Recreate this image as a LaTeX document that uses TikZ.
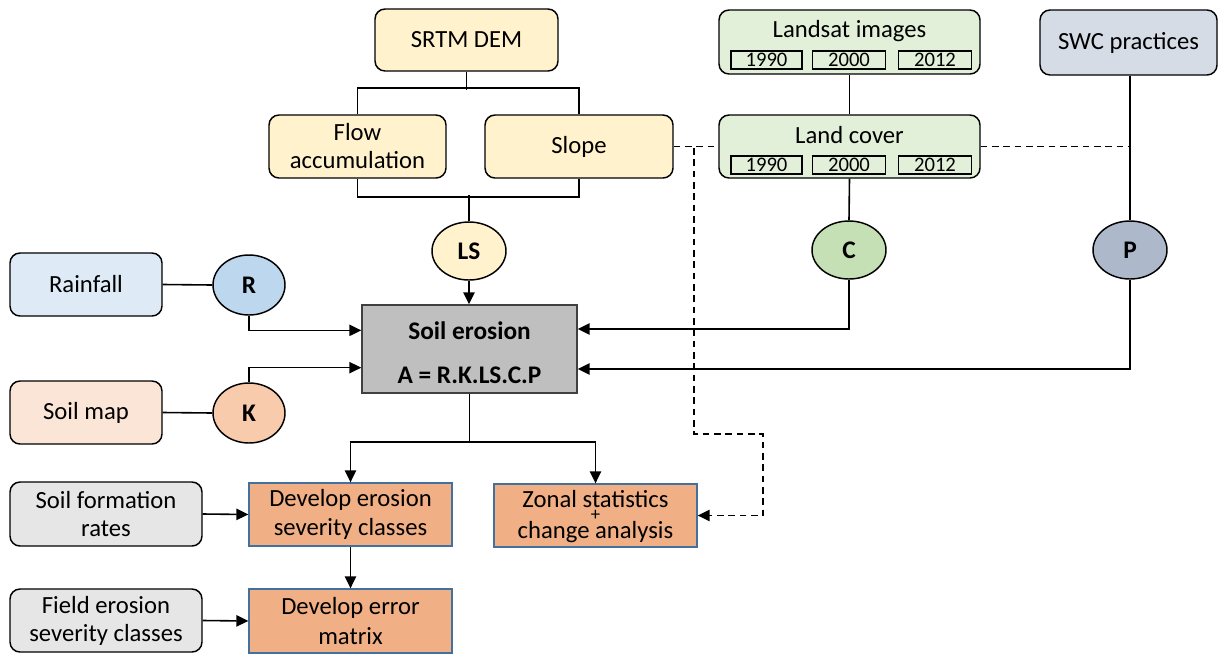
\documentclass[tikz,border=0pt]{standalone}
\usepackage{fontspec}
\setmainfont{Carlito}
\usetikzlibrary{arrows.meta,shapes.geometric}
\definecolor{ylw}{HTML}{FFF2CC}
\definecolor{grn}{HTML}{E2F0D9}
\definecolor{grnd}{HTML}{C5E0B4}
\definecolor{swc}{HTML}{D6DCE5}
\definecolor{swcd}{HTML}{ADB9CA}
\definecolor{blu}{HTML}{DEEBF7}
\definecolor{blud}{HTML}{BDD7EE}
\definecolor{pch}{HTML}{FBE5D6}
\definecolor{pchd}{HTML}{F8CBAD}
\definecolor{gry}{HTML}{E7E6E6}
\definecolor{org}{HTML}{F0AF84}
\definecolor{orgb}{HTML}{41719C}
\definecolor{segray}{HTML}{BFBFBF}
\tikzset{
  rbox/.style={draw=black, line width=1.1pt, rounded corners=7.5pt, align=center, inner sep=2pt, font=\fontsize{18.5}{21}\selectfont},
  obox/.style={draw=orgb, fill=org, line width=1pt, align=center, inner sep=2pt, minimum width=152.25pt, minimum height=47.25pt, font=\fontsize{18.5}{22}\selectfont},
  fac/.style={draw=black, ellipse, line width=1.1pt, minimum width=55.5pt, minimum height=43.5pt, inner sep=0pt, font=\bfseries\fontsize{19}{22}\selectfont},
  yr/.style={draw=black, line width=1pt, minimum height=13.5pt, minimum width=54.5pt, inner sep=0pt, font=\fontsize{15.5}{16}\selectfont},
  lbl/.style={inner sep=0pt, font=\fontsize{18.5}{21}\selectfont},
  conn/.style={line width=1.2pt},
  dsh/.style={dash pattern=on 5pt off 3.5pt},
  arr/.style={line width=1.2pt, -{Triangle[length=9pt,width=8.5pt]}},
}
\begin{document}
\begin{tikzpicture}[x=0.75pt,y=-0.75pt]
\useasboundingbox (0,0) rectangle (1218,654);

% top-left group
\node[rbox, fill=ylw, minimum width=137.25pt, minimum height=46.5pt] (srtm) at (466.5,40) {SRTM DEM};
\node[rbox, fill=ylw, minimum width=132.75pt, minimum height=47.25pt] (flow) at (357.5,146.5) {Flow\\accumulation};
\node[rbox, fill=ylw, minimum width=141pt, minimum height=47.25pt] (slope) at (579,146.5) {Slope};
\node[fac, fill=ylw] (ls) at (469,251) {LS};

% landsat group
\node[rbox, fill=grn, minimum width=195.75pt, minimum height=48pt] (landsat) at (849.5,42) {};
\node[lbl] (landsatt) at (849.5,31) {Landsat images};
\node[yr, minimum width=53.25pt] (ly1) at (766.5,60) {1990};
\node[yr] (ly2) at (849,60) {2000};
\node[yr] (ly3) at (935,60) {2012};
\node[rbox, fill=grn, minimum width=195.75pt, minimum height=47.25pt] (lc) at (849.5,146.5) {};
\node[lbl] (lct) at (849.5,135) {Land cover};
\node[yr, minimum width=53.25pt] (cy1) at (766.5,165) {1990};
\node[yr] (cy2) at (849,165) {2000};
\node[yr] (cy3) at (935,165) {2012};
\node[fac, fill=grnd] (c) at (849,250) {C};

\node[rbox, fill=swc, minimum width=132.75pt, minimum height=48.75pt] (swcp) at (1128.5,42.5) {SWC practices};
\node[fac, fill=swcd] (p) at (1130,250) {P};

% left inputs
\node[rbox, fill=blu, minimum width=114pt, minimum height=47.25pt] (rain) at (86,284.5) {Rainfall};
\node[fac, fill=blud, minimum width=54pt, minimum height=45pt] (r) at (249,285) {R};
\node[rbox, fill=pch, minimum width=114pt, minimum height=47.25pt] (soil) at (86,412.5) {Soil map};
\node[fac, fill=pchd, minimum width=54pt, minimum height=45pt] (k) at (249,413) {K};

% soil erosion
\node[draw=black!75, fill=segray, line width=1.1pt, minimum width=161.25pt, minimum height=66pt] (se) at (469.5,349) {};
\node[lbl, font=\bfseries\fontsize{19}{22}\selectfont] (se1) at (469.5,331) {Soil erosion};
\node[lbl, font=\bfseries\fontsize{19}{22}\selectfont] (se2) at (469.5,375) {A = R.K.LS.C.P};

% bottom
\node[rbox, fill=gry, minimum width=144pt, minimum height=48pt] (sfr) at (106,514) {Soil formation\\rates};
\node[rbox, fill=gry, minimum width=144pt, minimum height=47.25pt] (fes) at (106,620.5) {Field erosion\\severity classes};
\node[obox] (dev) at (350.5,514.5) {Develop erosion\\severity classes};
\node[obox] (zon) at (595.5,515.5) {};
\node[lbl] (zon1) at (595.5,499) {Zonal statistics};
\node[lbl, font=\fontsize{14}{14}\selectfont] (zonp) at (595.5,515) {+};
\node[lbl] (zon2) at (595.5,532) {change analysis};
\node[obox, minimum height=48pt] (err) at (350.5,621) {Develop error\\matrix};

% connectors top-left
\draw[conn] (srtm.south) -- ++(0,18) coordinate (sj);
\draw[conn] (flow.north) -- ++(0,-26) -| (slope.north);
\draw[conn] (flow.south) -- ++(0,18) -| (slope.south);
\draw[conn] (ls.north) -- ++(0,-26);
\draw[arr] (ls.south) -- (ls.south |- se.north);

\draw[conn] (landsat.south) -- (lc.north);
\draw[conn] (lc.south) -- (c.north);
\draw[arr] (c.south) |- ([yshift=15pt]se.east);
\draw[conn] (swcp.south -| p.north) -- (p.north);
\draw[arr] (p.south) |- ([yshift=-15pt]se.east);

\draw[conn] (rain.east) -- (r.west);
\draw[arr] (r.south) |- ([yshift=14pt]se.west);
\draw[conn] (soil.east) -- (k.west);
\draw[arr] (k.north) |- ([yshift=-14pt]se.west);

% dashed
\draw[conn, dsh] (slope.east) -- (lc.west);
\coordinate (dj) at (694,148);
\draw[arr, dsh] (dj) -- (694,434) -- (763,434) |- (zon.east);
\draw[conn, dsh] (lc.east) -- (lc.east -| p.north);

% bottom connectors
\draw[conn] (se.south) -- ++(0,48) coordinate (bj);
\draw[arr] (bj) -| (dev.north);
\draw[arr] (bj) -| (zon.north);
\draw[arr] (sfr.east) -- (dev.west);
\draw[arr] (dev.south) -- (err.north);
\draw[arr] (fes.east) -- (err.west);
\end{tikzpicture}
\end{document}
